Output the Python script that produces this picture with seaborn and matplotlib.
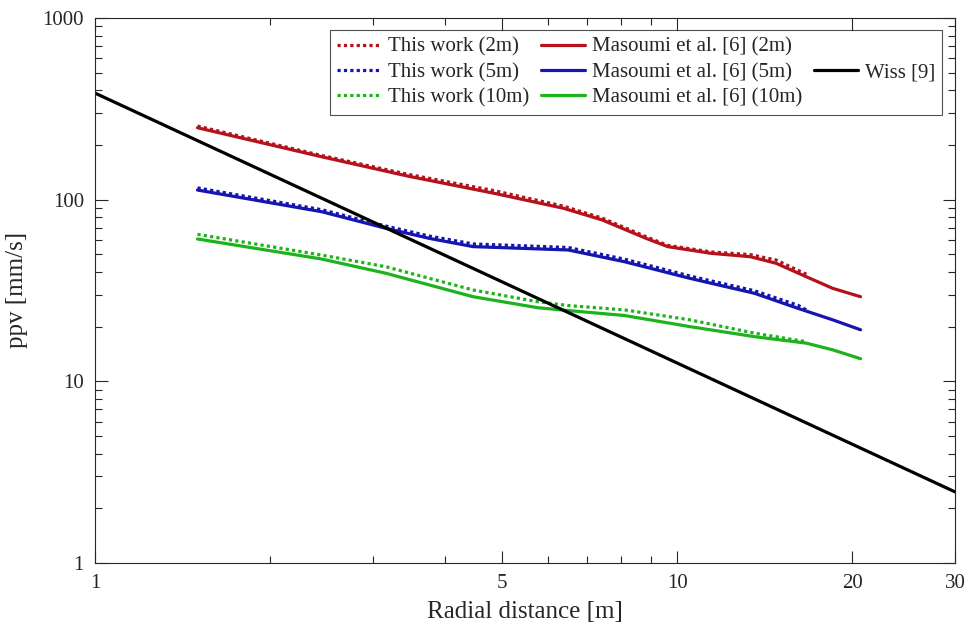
import numpy as np
import pandas as pd
import seaborn as sns
import matplotlib
matplotlib.use("Agg")
import matplotlib.pyplot as plt
from matplotlib.lines import Line2D
from matplotlib.ticker import FixedLocator, FixedFormatter, NullFormatter, LogLocator

# --- data ---
# Masoumi et al. [6]
mas_2m_x = [1.50, 2.45, 3.44, 4.85, 6.38, 7.44, 8.84, 9.63, 11.44, 13.35, 14.79, 16.67, 18.48, 20.65]
mas_2m_y = [248.7, 172.2, 134.9, 108.3, 89.6, 77.2, 61.2, 55.1, 50.6, 48.5, 44.6, 37.6, 32.5, 29.2]
mas_5m_x = [1.50, 2.45, 3.16, 3.75, 4.46, 6.50, 8.12, 10.50, 13.57, 16.12, 18.48, 20.65]
mas_5m_y = [112.9, 85.8, 69.5, 61.2, 55.1, 52.8, 45.5, 36.9, 30.5, 25.2, 21.8, 19.2]
mas_10m_x = [1.50, 2.45, 3.16, 4.46, 5.76, 6.50, 8.12, 10.50, 13.57, 16.67, 18.48, 20.65]
mas_10m_y = [60.7, 47.1, 39.3, 29.2, 25.4, 24.5, 23.0, 20.0, 17.6, 16.2, 14.9, 13.3]

# This work (ends earlier, ~16.7 m)
tw_2m_x = [1.50, 2.45, 3.44, 4.85, 6.38, 7.44, 8.84, 9.63, 11.44, 13.35, 14.79, 16.67]
tw_2m_y = [254, 175, 138, 112, 92, 79, 62.5, 56, 51.5, 49.8, 46.5, 38.8]
tw_5m_x = [1.50, 2.45, 3.16, 3.75, 4.46, 6.50, 8.12, 10.50, 13.57, 16.12, 16.67]
tw_5m_y = [116, 88, 71.5, 63, 57, 54.5, 47, 38, 31.5, 26.2, 24.7]
tw_10m_x = [1.50, 2.45, 3.16, 4.46, 5.76, 6.50, 8.12, 10.50, 13.57, 16.67]
tw_10m_y = [64.4, 49.5, 42.7, 31.8, 27.4, 26.1, 24.7, 21.8, 18.4, 16.5]

# Wiss [9]
wiss_x = [1.0, 30.0]
wiss_y = [386, 2.46]

red = "#B5121B"
blue = "#1515B0"
green = "#1DB31D"
ink = "#262626"

sns.set_style("ticks")
plt.rcParams["font.family"] = ["Liberation Serif", "DejaVu Serif"]
plt.rcParams["text.color"] = ink
plt.rcParams["axes.labelcolor"] = ink
plt.rcParams["xtick.color"] = ink
plt.rcParams["ytick.color"] = ink

fig = plt.figure(figsize=(9.7, 6.31), dpi=100)
ax = fig.add_axes([0.0979, 0.108, 0.8866, 0.8635])

dot = (0, (1, 1))
lw = 2.3
sns.lineplot(x=tw_2m_x, y=tw_2m_y, ax=ax, color=red, linestyle=dot, lw=lw, sort=False)
sns.lineplot(x=tw_5m_x, y=tw_5m_y, ax=ax, color=blue, linestyle=dot, lw=lw, sort=False)
sns.lineplot(x=tw_10m_x, y=tw_10m_y, ax=ax, color=green, linestyle=dot, lw=lw, sort=False)
sns.lineplot(x=mas_2m_x, y=mas_2m_y, ax=ax, color=red, lw=lw, sort=False)
sns.lineplot(x=mas_5m_x, y=mas_5m_y, ax=ax, color=blue, lw=lw, sort=False)
sns.lineplot(x=mas_10m_x, y=mas_10m_y, ax=ax, color=green, lw=lw, sort=False)
sns.lineplot(x=wiss_x, y=wiss_y, ax=ax, color="black", lw=lw, sort=False)

ax.set_xscale("log")
ax.set_yscale("log")
ax.set_xlim(1, 30)
ax.set_ylim(1, 1000)

ax.xaxis.set_major_locator(FixedLocator([1, 5, 10, 20, 30]))
ax.xaxis.set_major_formatter(FixedFormatter(["1", "5", "10", "20", "30"]))
ax.xaxis.set_minor_locator(FixedLocator([2, 3, 4, 6, 7, 8, 9]))
ax.xaxis.set_minor_formatter(NullFormatter())
ax.yaxis.set_major_locator(FixedLocator([1, 10, 100, 1000]))
ax.yaxis.set_major_formatter(FixedFormatter(["1", "10", "100", "1000"]))
ax.yaxis.set_minor_locator(LogLocator(base=10, subs=np.arange(2, 10)))
ax.yaxis.set_minor_formatter(NullFormatter())

ax.tick_params(which="both", direction="in", top=True, right=True, width=0.8, color=ink)
ax.tick_params(which="major", length=9, labelsize=15, pad=8)
ax.tick_params(which="minor", length=5)
for s in ax.spines.values():
    s.set_linewidth(0.8)
    s.set_color(ink)

ax.set_xlabel("Radial distance [m]", fontsize=18, labelpad=6)
ax.set_ylabel("ppv [mm/s]", fontsize=18, labelpad=10)

blank = Line2D([], [], linestyle="none")
handles = [
    Line2D([], [], color=red, linestyle=dot, lw=lw),
    Line2D([], [], color=blue, linestyle=dot, lw=lw),
    Line2D([], [], color=green, linestyle=dot, lw=lw),
    Line2D([], [], color=red, lw=lw),
    Line2D([], [], color=blue, lw=lw),
    Line2D([], [], color=green, lw=lw),
    blank,
    Line2D([], [], color="black", lw=lw),
    blank,
]
labels = ["This work (2m)", "This work (5m)", "This work (10m)",
          "Masoumi et al. [6] (2m)", "Masoumi et al. [6] (5m)", "Masoumi et al. [6] (10m)",
          "", "Wiss [9]", ""]
leg = ax.legend(handles, labels, ncol=3, fontsize=15, loc="upper right",
                bbox_to_anchor=(0.9855, 0.978), frameon=True, fancybox=False,
                handlelength=2.1, handletextpad=0.35, columnspacing=0.55,
                labelspacing=0.27, borderpad=0.35, borderaxespad=0)
leg.get_frame().set_edgecolor(ink)
leg.get_frame().set_linewidth(0.8)

fig.savefig("out.png", dpi=100)
